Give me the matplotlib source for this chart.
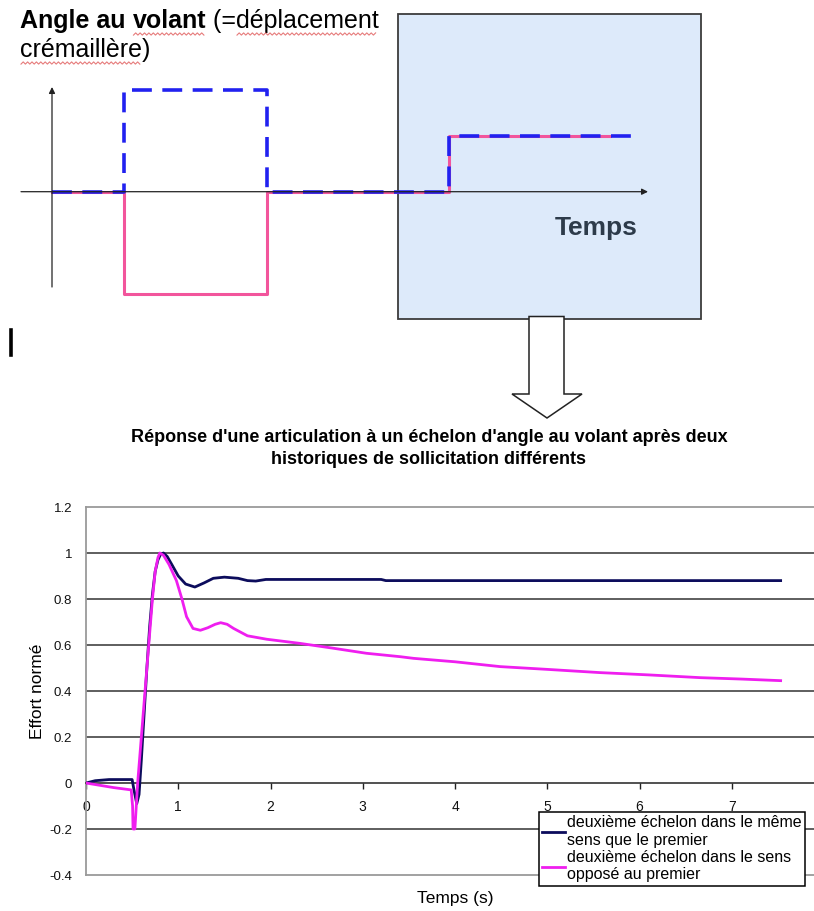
import numpy as np
import matplotlib
matplotlib.use("Agg")
import matplotlib.pyplot as plt
from matplotlib.patches import Rectangle, Polygon

plt.rcParams['font.family'] = ['Liberation Sans', 'DejaVu Sans']

W, H = 814, 911

# --- schéma du haut : angle au volant (unités arbitraires) ---
t_schema = [0, 2.0, 2.0, 6.0, 6.0, 11.1, 11.1, 15.6]
angle_meme = [0, 0, 1.0, 1.0, 0, 0, 0.55, 0.55]
angle_oppose = [0, 0, -1.0, -1.0, 0, 0, 0.55, 0.55]

# --- courbe du bas : effort normé ---
t_meme = [0, 0.1, 0.25, 0.5, 0.52, 0.55, 0.575, 0.6, 0.63, 0.66, 0.69, 0.72,
          0.75, 0.78, 0.81, 0.84, 0.88, 0.93, 1.0, 1.08, 1.18, 1.28, 1.38,
          1.5, 1.65, 1.75, 1.84, 1.95, 2.5, 3.2, 3.25, 5.0, 7.53]
effort_meme = [0, 0.01, 0.015, 0.015, -0.03, -0.09, -0.05, 0.1, 0.3, 0.5,
               0.68, 0.82, 0.92, 0.97, 0.995, 1.0, 0.985, 0.95, 0.9, 0.865,
               0.852, 0.87, 0.89, 0.895, 0.89, 0.88, 0.878, 0.885, 0.885,
               0.885, 0.88, 0.88, 0.88]

t_oppose = [0, 0.15, 0.3, 0.49, 0.505, 0.51, 0.53, 0.545, 0.56, 0.58, 0.6,
            0.63, 0.66, 0.69, 0.72, 0.75, 0.78, 0.8, 0.84, 0.9, 0.98, 1.04,
            1.09, 1.16, 1.24, 1.32, 1.4, 1.46, 1.53, 1.6, 1.75, 1.96, 2.32,
            2.68, 3.04, 3.41, 3.55, 4.0, 4.49, 5.0, 5.57, 6.1, 6.66, 7.1, 7.53]
effort_oppose = [0, -0.01, -0.02, -0.03, -0.1, -0.2, -0.2, -0.1, 0.0, 0.1,
                 0.2, 0.35, 0.5, 0.65, 0.8, 0.92, 0.98, 1.0, 0.99, 0.95, 0.88,
                 0.8, 0.723, 0.672, 0.664, 0.675, 0.69, 0.697, 0.69, 0.672,
                 0.64, 0.625, 0.607, 0.586, 0.564, 0.549, 0.542, 0.527, 0.506,
                 0.494, 0.48, 0.47, 0.458, 0.452, 0.445]

y_ticks = [-0.4, -0.2, 0, 0.2, 0.4, 0.6, 0.8, 1, 1.2]
y_labels = ['-0.4', '-0.2', '0', '0.2', '0.4', '0.6', '0.8', '1', '1.2']
x_ticks = [0, 1, 2, 3, 4, 5, 6, 7]

label_meme = "deuxième échelon dans le même\nsens que le premier"
label_oppose = "deuxième échelon dans le sens\nopposé au premier"
titre = ("Réponse d'une articulation à un échelon d'angle au volant après deux\n"
         "historiques de sollicitation différents")


def px_axes(x0, y0, x1, y1, **kw):
    # axes placed with pixel box (origin top-left)
    return fig.add_axes([x0 / W, 1 - y1 / H, (x1 - x0) / W, (y1 - y0) / H], **kw)


fig = plt.figure(figsize=(W / 100, H / 100), dpi=100)
fig.patch.set_facecolor('white')

# overlay in pixel coordinates for boxes / arrows / texts
ov = fig.add_axes([0, 0, 1, 1])
ov.set_xlim(0, W)
ov.set_ylim(H, 0)
ov.axis('off')
ov.set_zorder(0)

ov.add_patch(Rectangle((397.5, 14), 303.5, 305, facecolor='#ddeafa',
                       edgecolor='#3c3c3c', lw=1.3, zorder=1))
ov.add_patch(Polygon([(529, 316.5), (564, 316.5), (564, 394), (582, 394),
                      (547, 418), (512, 394), (529, 394)], closed=True,
                     facecolor='white', edgecolor='#222222', lw=1.1, zorder=2))
ov.plot([11, 11], [330, 355], color='black', lw=2.6, zorder=2)
ov.text(596, 228, "Temps", fontsize=19, fontweight='bold', color='#2d3b4a',
        ha='center', va='center', zorder=3)

# title of the schema, piece by piece (to get spell-check underlines)
pieces = [
    ("Angle au ", 'bold', False, 0),
    ("volant", 'bold', True, 0),
    (" (=", 'normal', False, 0),
    ("déplacement", 'normal', True, 0),
    ("crémaillère", 'normal', True, 1),
    (")", 'normal', False, 1),
]
renderer = fig.canvas.get_renderer()
line_y = [21, 50]
x_cur = {0: 20, 1: 20}
for txt, weight, wavy, ln in pieces:
    t = ov.text(x_cur[ln], line_y[ln], txt, fontsize=18, fontweight=weight,
                ha='left', va='center', color='black', zorder=3)
    w = t.get_window_extent(renderer).width
    if wavy:
        xs = np.arange(x_cur[ln] + 1, x_cur[ln] + w - 1, 2.2)
        ys = line_y[ln] + 13 + 1.1 * (-1) ** np.arange(len(xs))
        ov.plot(xs, ys, color='#e05a5a', lw=0.8, alpha=0.8, zorder=3)
    x_cur[ln] += w

# schema axes: origin at pixel (52, 191.7), 35.8 px per time unit, 102 px per amplitude unit
sx, sy = 35.8, 102.0
x0p, y0p = 52.0, 191.7
ax_s = px_axes(15, 75, 665, 305)
ax_s.set_xlim((15 - x0p) / sx, (665 - x0p) / sx)
ax_s.set_ylim((y0p - 305) / sy, (y0p - 75) / sy)
ax_s.axis('off')
ax_s.patch.set_visible(False)
ax_s.set_zorder(2)

arrow_kw = dict(arrowstyle='-|>', color='#222222', lw=0.9, mutation_scale=9,
                shrinkA=0, shrinkB=0)
ax_s.annotate('', xy=((648 - x0p) / sx, 0), xytext=((21 - x0p) / sx, 0),
              arrowprops=arrow_kw)
ax_s.annotate('', xy=(0, (y0p - 87) / sy), xytext=(0, (y0p - 287) / sy),
              arrowprops=arrow_kw)

ax_s.plot(t_schema, angle_oppose, color='#f2559c', lw=2.2,
          solid_joinstyle='round')
ax_s.plot(t_schema + [16.2], angle_meme + [0.55], color='#2121f0', lw=2.6,
          dashes=(5.5, 2.9), dash_capstyle='butt', solid_joinstyle='round')

# --- bottom chart ---
ax = px_axes(86, 507, 824, 875)
ax.set_zorder(3)
ax.set_xlim(0, 8)
ax.set_ylim(-0.4, 1.2)

for v in y_ticks[1:-1]:
    if v != 0:
        ax.axhline(v, color='#333333', lw=1.1, zorder=1)
ax.axhline(-0.4, color='#9a9a9a', lw=1.3, zorder=1, clip_on=False)

l1, = ax.plot(t_meme, effort_meme, color='#0c0c5c', lw=2.0, zorder=3)
l2, = ax.plot(t_oppose, effort_oppose, color='#ef1eef', lw=2.0, zorder=4)

for side in ['top', 'left', 'right']:
    ax.spines[side].set_color('#9a9a9a')
    ax.spines[side].set_linewidth(1.3)
ax.spines['bottom'].set_position(('data', 0))
ax.spines['bottom'].set_color('#222222')
ax.spines['bottom'].set_linewidth(1.1)

ax.set_yticks(y_ticks)
ax.set_yticklabels(y_labels)
ax.set_xticks(x_ticks)
ax.tick_params(axis='y', length=0, pad=10, labelsize=9.5, labelcolor='#111111')
ax.tick_params(axis='x', length=4, width=1, direction='out', pad=8,
               labelsize=10, labelcolor='#111111', color='#222222')

ax.text(-0.066, 0.5, "Effort normé", transform=ax.transAxes, rotation=90,
        fontsize=12.5, ha='center', va='center')
ax.text(0.5, -0.065, "Temps (s)", transform=ax.transAxes, fontsize=12.5,
        ha='center', va='center')

fig.text(429 / W, 1 - 448.5 / H, titre, fontsize=13, fontweight='bold',
         ha='center', va='center', linespacing=1.45)

leg = ax.legend([l1, l2], [label_meme, label_oppose], loc='upper left',
                bbox_to_anchor=(539 / W, 1 - 812 / H),
                bbox_transform=fig.transFigure, borderaxespad=0,
                fontsize=11.5, frameon=True, fancybox=False, borderpad=0.2,
                handlelength=1.4, handletextpad=0.15, labelspacing=0.15)
for tx in leg.get_texts():
    tx.set_linespacing(1.2)
leg.get_frame().set_edgecolor('black')
leg.get_frame().set_linewidth(1.1)
leg.get_frame().set_facecolor('white')
leg.get_frame().set_alpha(1)

fig.savefig("out.png", dpi=100)
